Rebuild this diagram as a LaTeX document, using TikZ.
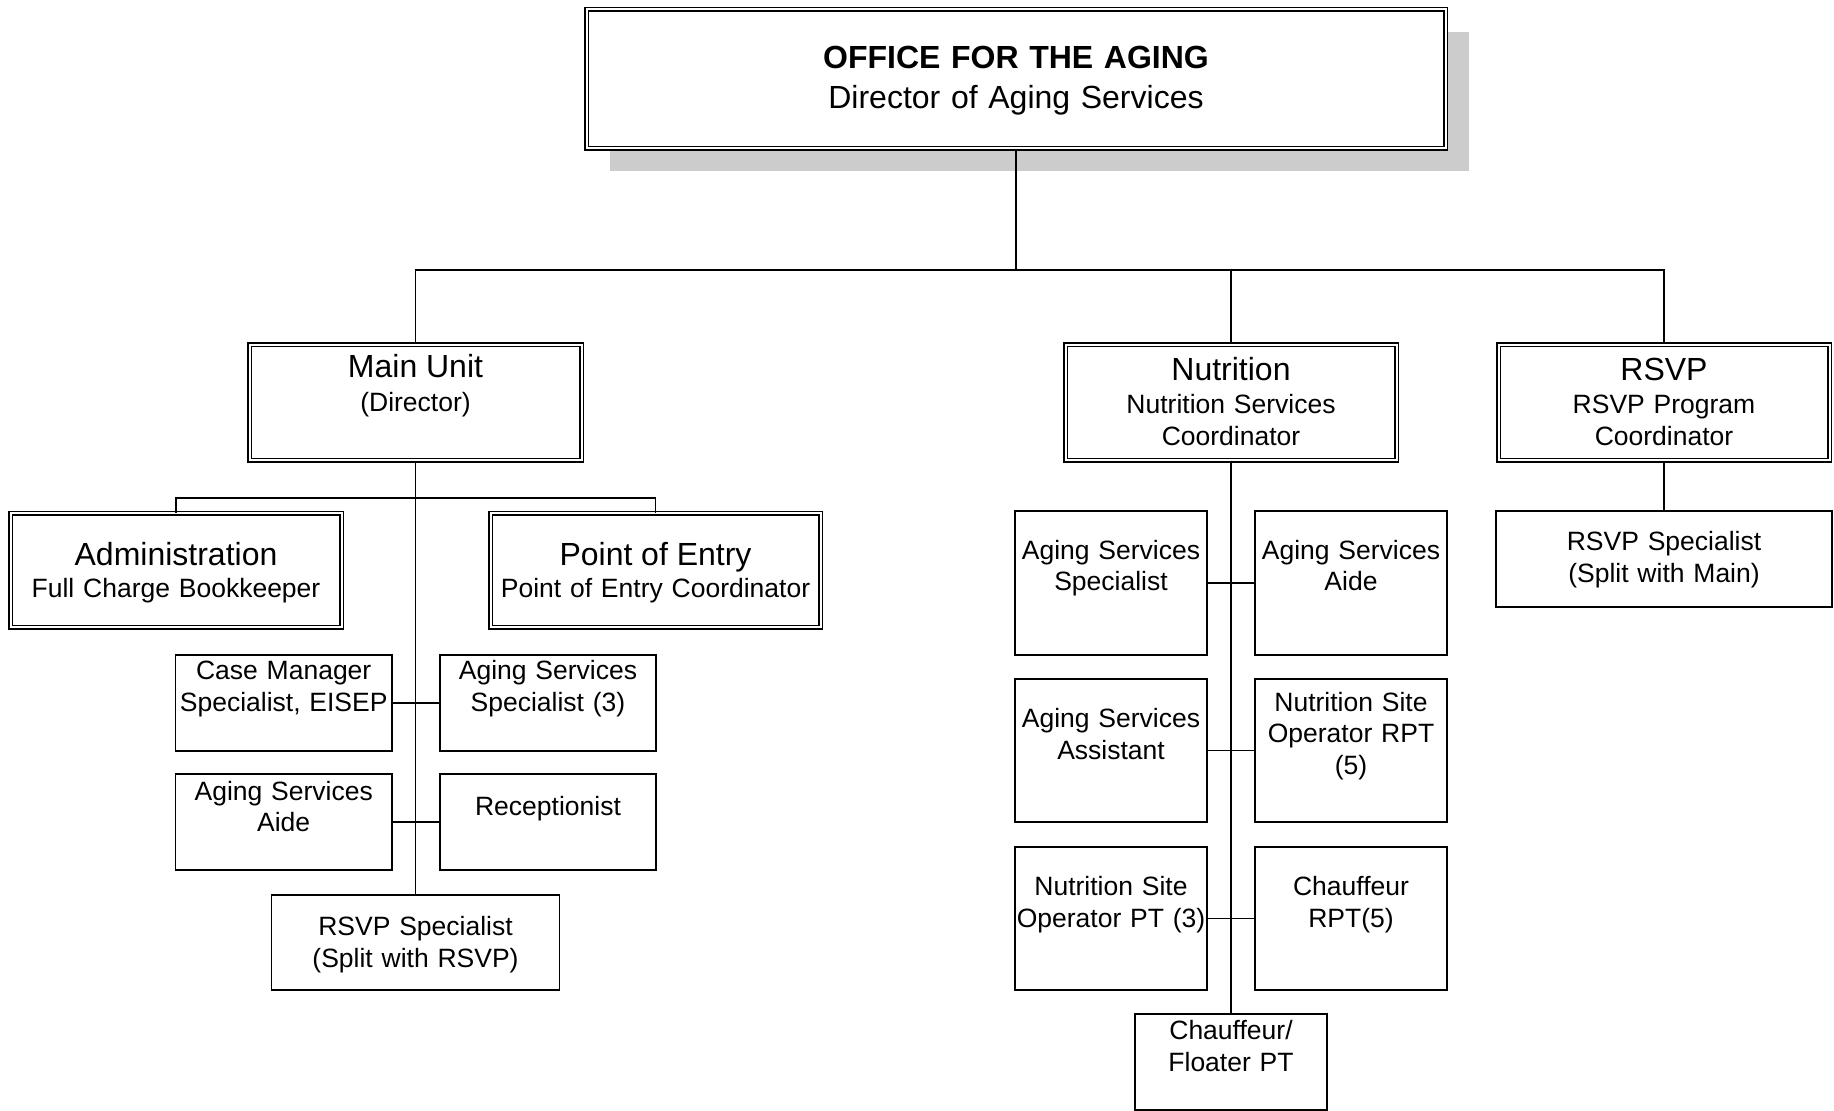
\documentclass[tikz,border=0pt]{standalone}
\usepackage{fontspec}
\setmainfont{Liberation Sans}
\usetikzlibrary{shadows}
\tikzstyle{line} = [draw, 
line width=1.7pt, 
color=black]
\newcommand{\unithead}[1]{{\fontsize{32}{36}\selectfont #1}}

\begin{document}
\begin{tikzpicture}[x=1pt, y=-1pt,
		font=\fontsize{26.5}{31.6}\selectfont,
		unit/.style={draw, double, line width=1.5pt, double distance=2pt, fill=white,
			anchor=north, inner sep=0pt, align=center},
		post/.style={draw, line width=1.7pt, fill=white,
			anchor=north, inner sep=0pt, align=center}]
		\useasboundingbox (0,0) rectangle (1834,1111);
		%% Office
		\node [unit, text width=859pt, text height=59pt, text depth=80pt,
			font=\fontsize{32}{40}\selectfont,
			drop shadow={shadow xshift=23pt, shadow yshift=-23pt, fill=black!20, opacity=1}]
			at (1016,8.5) (OFA) {\textbf{OFFICE FOR THE AGING}\\Director of Aging Services};
		%% Units
		\node [unit, text width=332pt, text height=32.5pt, text depth=83pt] at (415.5,344) (Main) {\unithead{Main Unit}\\[2.6pt](Director)};
		\node [unit, text width=331pt, text height=36pt, text depth=79.5pt] at (1231,344) (Nut) {\unithead{Nutrition}\\[1.6pt]Nutrition Services\\Coordinator};
		\node [unit, text width=331pt, text height=36pt, text depth=79.5pt] at (1664,344) (RSVP) {\unithead{RSVP}\\[1.6pt]RSVP Program\\Coordinator};
		\node [unit, text width=331pt, text height=52.2pt, text depth=61.8pt] at (176,512.5) (Admin) {\unithead{Administration}\\Full Charge Bookkeeper};
		\node [unit, text width=330pt, text height=52.2pt, text depth=61.8pt] at (655.5,512.5) (PoE) {\unithead{Point of Entry}\\Point of Entry Coordinator};
		%% Main Unit staff
		\node [post, text width=216.5pt, text height=24.7pt, text depth=71.3pt] at (283.7,654) (CaseMgr) {Case Manager\\Specialist, EISEP};
		\node [post, text width=216pt, text height=24.7pt, text depth=71.3pt] at (548,654) (MainSpec) {Aging Services\\Specialist (3)};
		\node [post, text width=216.5pt, text height=26.2pt, text depth=69.8pt] at (283.7,773) (MainAide) {Aging Services\\Aide};
		\node [post, text width=216pt, text height=41.4pt, text depth=54.6pt] at (548,773) (Recep) {Receptionist};
		\node [post, text width=288pt, text height=40.9pt, text depth=54.1pt] at (415.5,894) (RSVPa) {RSVP Specialist\\(Split with RSVP)};
		%% RSVP staff
		\node [post, text width=336pt, text height=40pt, text depth=56pt] at (1664,510) (RSVPb) {RSVP Specialist\\(Split with Main)};
		%% Nutrition staff
		\node [post, text width=192pt, text height=48.2pt, text depth=95.8pt] at (1111,510) (NutSpec) {Aging Services\\Specialist};
		\node [post, text width=192pt, text height=48.2pt, text depth=95.8pt] at (1351,510) (NutAide) {Aging Services\\Aide};
		\node [post, text width=192pt, text height=48.7pt, text depth=94.3pt] at (1111,678) (NutAsst) {Aging Services\\Assistant};
		\node [post, text width=192pt, text height=32.3pt, text depth=110.7pt] at (1351,678) (SiteRPT) {Nutrition Site\\Operator RPT\\(5)};
		\node [post, text width=192pt, text height=49.1pt, text depth=93.9pt] at (1111,846) (SitePT) {Nutrition Site\\Operator PT (3)};
		\node [post, text width=192pt, text height=49.1pt, text depth=93.9pt] at (1351,846) (Chauf) {Chauffeur\\RPT(5)};
		\node [post, text width=191.5pt, text height=26pt, text depth=70pt] at (1231,1013) (Floater) {Chauffeur/\\Floater PT};
		%% Links
		\coordinate (bus) at (1016,270);
		\coordinate (mainbus) at (415.5,498);
		\path [line] (OFA.south) -- (bus);
		\path [line] (Main.north) |- (bus) -| (RSVP.north);
		\path [line] (Nut.north) -- (Nut.north |- bus);
		\path [line] (Main.south) -- (RSVPa.north);
		\path [line] (Admin.north) |- (mainbus) -| (PoE.north);
		\path [line] (CaseMgr.east) -- (MainSpec.west);
		\path [line] (MainAide.east) -- (Recep.west);
		\path [line] (RSVP.south) -- (RSVPb.north);
		\path [line] (Nut.south) -- (Floater.north);
		\path [line] (NutSpec.east) -- (NutAide.west);
		\path [line] (NutAsst.east) -- (SiteRPT.west);
		\path [line] (SitePT.east) -- (Chauf.west);
	\end{tikzpicture}
\end{document}
